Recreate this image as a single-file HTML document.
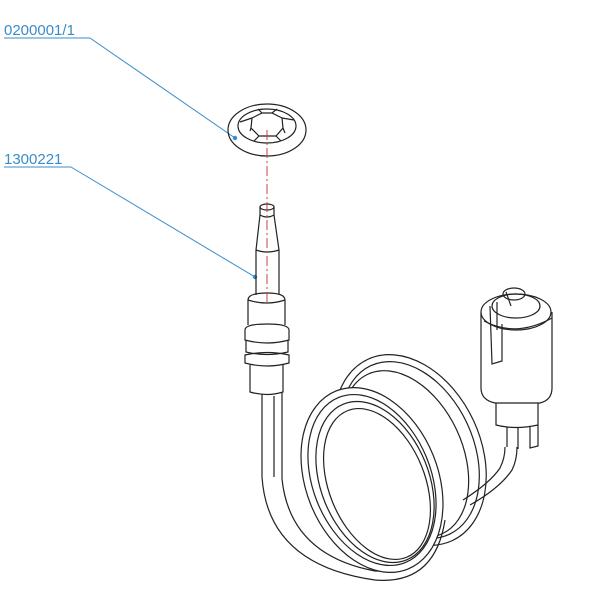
<!DOCTYPE html>
<html><head><style>body{margin:0;background:#fff}svg{display:block}</style></head>
<body>
<svg width="600" height="600" viewBox="0 0 600 600" xmlns="http://www.w3.org/2000/svg">
<g font-family="Liberation Sans, sans-serif" font-size="15" fill="#3a8cc8">
<text x="4" y="35">0200001/1</text>
<text x="4" y="164">1300221</text>
</g>
<g stroke="#3a8cc8" stroke-width="1" fill="none">
<line x1="4" y1="38" x2="90" y2="38"/><line x1="90" y1="38" x2="235" y2="138"/>
<line x1="4" y1="167" x2="71" y2="167"/><line x1="71" y1="167" x2="255" y2="277"/>
</g>
<circle cx="235" cy="138" r="2.2" fill="#3a8cc8"/><circle cx="255" cy="277" r="2.2" fill="#3a8cc8"/>
<g stroke="#222" stroke-width="1.2" fill="none">
<!-- washer -->
<ellipse cx="267" cy="130" rx="39" ry="26"/>
<ellipse cx="267" cy="126" rx="29" ry="17"/>
<path d="M252 118 L262 113 L272 113 L282 118 L283 128 L276 136 L259 136 L251 128 Z"/>
<path d="M240 122 L252 118 M250 131 L251 128 M294 120 L282 118 M285 133 L283 128 M262 113 L258 109 M272 113 L277 109 M259 136 L254 141 M276 136 L281 141"/>
<!-- probe -->
<ellipse cx="267" cy="207" rx="7" ry="3"/>
<path d="M260 207 L260 215 L256 250 L256 295 M274 207 L274 215 L279 250 L279 295"/>
<path d="M260 215 Q267 219 274 215 M256 250 Q267 254 279 250"/>
<path d="M248 300 Q248 293 267 293 Q285 293 285 300 L285 325 M248 300 L248 325 M248 300 Q267 306 285 300"/>
<path d="M245 330 Q245 324 267 324 Q289 324 289 330 L289 340 Q267 346 245 340 Z"/>
<path d="M246 340 L246 352 Q267 357 288 352 L288 340"/>
<path d="M245 355 Q267 350 289 355 L289 363 Q267 369 245 363 Z"/>
<path d="M250 365 L250 392 Q267 397 283 392 L283 365"/>
<path d="M262 394 L262 477 M274 396 L274 477 M282 393 L282 479"/>
<path d="M262 477 Q268 565 375 580 Q435 585 445 520 M282 479 Q290 555 375 571 Q428 573 437 518"/>
<!-- back loop -->
<ellipse cx="410" cy="450" rx="70" ry="100" transform="rotate(-25 410 450)"/>
<ellipse cx="410" cy="450" rx="63" ry="93" transform="rotate(-25 410 450)"/>
<ellipse cx="405" cy="454" rx="57" ry="88" transform="rotate(-25 405 454)"/>
<!-- front loop -->
<ellipse cx="372" cy="480" rx="66" ry="96" transform="rotate(-22 372 480)" fill="#fff"/>
<ellipse cx="372" cy="480" rx="59" ry="89" transform="rotate(-22 372 480)"/>
<ellipse cx="375" cy="482" rx="54" ry="84" transform="rotate(-22 375 482)"/>
<ellipse cx="377" cy="484" rx="48" ry="79" transform="rotate(-22 377 484)"/>
<path d="M470 505 Q500 488 512 470 Q517 460 517 447 M463 500 Q490 483 500 468 Q505 458 505 447"/>
<!-- connector -->
<path d="M481 312 L481 388 Q481 400 495 403 L540 403 Q552 400 552 388 L552 312" fill="#fff"/>
<ellipse cx="516" cy="312" rx="35" ry="18" fill="#fff"/>
<ellipse cx="516" cy="306" rx="24" ry="12"/>
<ellipse cx="514" cy="294" rx="11" ry="6"/>
<path d="M490 306 L492 364 L502 361 L502 324 M497 302 L497 330 M506 292 L511 306 M552 318 Q516 338 484 321"/>
<path d="M496 403 L496 425 Q515 430 538 425 L538 403"/>
<path d="M507 427 L507 447 M518 428 L518 449 M530 426 L530 448 L538 446 L538 425"/>
</g>
<line x1="267" y1="130" x2="267" y2="305" stroke="#c84040" stroke-width="1" stroke-dasharray="10 3 2 3"/>
</svg>
</body></html>
